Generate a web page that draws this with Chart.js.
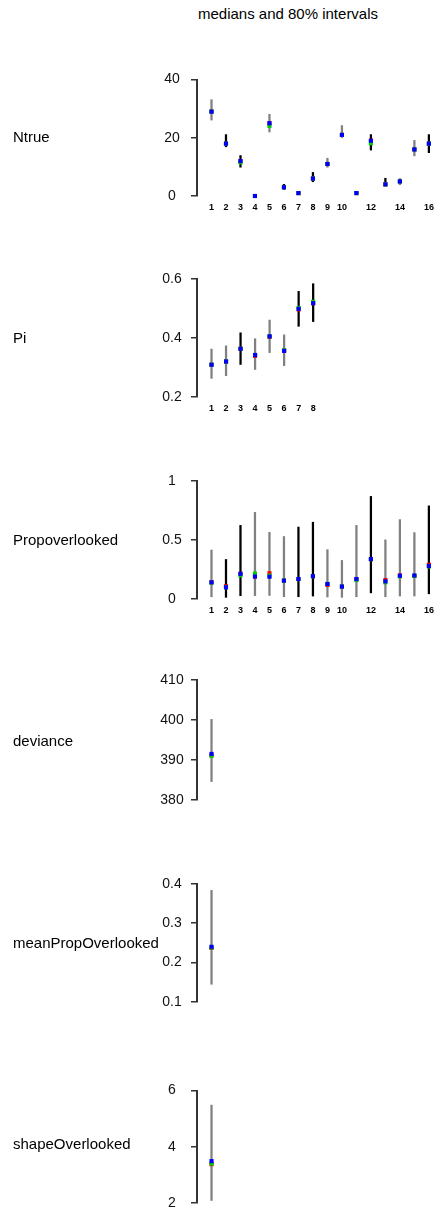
<!DOCTYPE html>
<html>
<head>
<meta charset="utf-8">
<script src="https://cdn.jsdelivr.net/npm/chart.js@4.4.1/dist/chart.umd.min.js"></script>
<style>
body{margin:0;background:#fff;width:440px;height:1211px;position:relative;overflow:hidden;font-family:"Liberation Sans",Arial,sans-serif;}
.panel{position:absolute;left:0;width:440px;height:161px;}
.lbl{position:absolute;left:13px;font-size:15px;color:#000;transform:translateY(-50%);white-space:nowrap;}
#title{position:absolute;top:5px;left:288px;transform:translateX(-50%);font-size:15px;white-space:nowrap;}
</style>
</head>
<body>
<div id="title">medians and 80% intervals</div>
<script>
// ==========================
// DATA (chain medians + 80% intervals)
// ==========================
const ntrueRed   = [29,18,12,0,25,3,1,6,11,21,1,19,4,5,16,18];
const ntrueGreen = [29,18,11.6,0,24.1,3,1,6,11,21,1,18.1,4,5,16,18];
const ntrueBlue  = [29,18,12,0,25,3,1,6,11,21,1,19,4,5,16,18];
const ntrueLow   = [26.1,16.9,9.9,0,22.0,2.3,1,4.9,9.9,20.1,1,15.8,3.5,3.9,13.8,14.9];
const ntrueHigh  = [33.1,21.1,13.9,0,28.1,4.0,1,8.1,13.0,24.2,1,21.1,6.1,6.0,19.1,21.1];
const ntrueXTicks = [1,2,3,4,5,6,7,8,9,10,12,14,16];
const ntrueYTicks = [0,20,40];

const piRed   = [0.309,0.320,0.363,0.339,0.403,0.356,0.496,0.517];
const piGreen = [0.309,0.320,0.363,0.342,0.405,0.358,0.501,0.522];
const piBlue  = [0.309,0.320,0.363,0.342,0.405,0.356,0.498,0.517];
const piLow   = [0.263,0.272,0.310,0.293,0.350,0.306,0.439,0.455];
const piHigh  = [0.362,0.373,0.417,0.397,0.460,0.410,0.557,0.583];
const piXTicks = [1,2,3,4,5,6,7,8];
const piYTicks = [0.2,0.4,0.6];

const propRed   = [0.141,0.108,0.213,0.190,0.218,0.155,0.169,0.193,0.119,0.105,0.169,0.337,0.160,0.200,0.195,0.290];
const propGreen = [0.138,0.099,0.200,0.215,0.198,0.155,0.169,0.193,0.127,0.105,0.160,0.337,0.141,0.192,0.195,0.275];
const propBlue  = [0.141,0.099,0.213,0.190,0.188,0.155,0.169,0.193,0.127,0.105,0.169,0.337,0.149,0.196,0.199,0.279];
const propLow   = [0.019,0.014,0.028,0.028,0.030,0.019,0.019,0.025,0.017,0.014,0.019,0.052,0.019,0.025,0.025,0.044];
const propHigh  = [0.414,0.334,0.622,0.732,0.564,0.528,0.608,0.649,0.417,0.326,0.622,0.867,0.500,0.671,0.561,0.787];
const propXTicks = [1,2,3,4,5,6,7,8,9,10,12,14,16];
const propYTicks = [0,0.5,1];

const devRed = [391.2], devGreen = [391.0], devBlue = [391.5];
const devLow = [384.6], devHigh = [400.1];
const devYTicks = [380,390,400,410];

const meanRed = [0.237], meanGreen = [0.238], meanBlue = [0.240];
const meanLow = [0.145], meanHigh = [0.383];
const meanYTicks = [0.1,0.2,0.3,0.4];

const shapeRed = [3.38], shapeGreen = [3.40], shapeBlue = [3.49];
const shapeLow = [2.09], shapeHigh = [5.48];
const shapeYTicks = [2,4,6];

// ==========================
// STYLE (which interval lines look dark)
// ==========================
const ntrueDark = [0,1,1,1,0,1,1,1,0,0,1,1,1,0,0,1];
const piDark    = [0,0,1,0,0,0,1,1];
const propDark  = [0,1,1,0,0,0,1,1,0,0,0,1,0,0,0,1];

const panels = [
  {name:"Ntrue", top:75, red:ntrueRed, green:ntrueGreen, blue:ntrueBlue, low:ntrueLow, high:ntrueHigh, xt:ntrueXTicks, yt:ntrueYTicks, dark:ntrueDark},
  {name:"Pi", top:276, red:piRed, green:piGreen, blue:piBlue, low:piLow, high:piHigh, xt:piXTicks, yt:piYTicks, dark:piDark},
  {name:"Propoverlooked", top:478, red:propRed, green:propGreen, blue:propBlue, low:propLow, high:propHigh, xt:propXTicks, yt:propYTicks, dark:propDark},
  {name:"deviance", top:679, red:devRed, green:devGreen, blue:devBlue, low:devLow, high:devHigh, xt:[], yt:devYTicks, dark:[0]},
  {name:"meanPropOverlooked", top:881, red:meanRed, green:meanGreen, blue:meanBlue, low:meanLow, high:meanHigh, xt:[], yt:meanYTicks, dark:[0]},
  {name:"shapeOverlooked", top:1082, red:shapeRed, green:shapeGreen, blue:shapeBlue, low:shapeLow, high:shapeHigh, xt:[], yt:shapeYTicks, dark:[0]}
];

const AREA_H = 121, PAD_TOP = 15, AXIS_X = 197, LABEL_CX = 172, TICK_LEN = 6;
const CANVAS_W = 440, CANVAS_H = 161;
const tickFont = '14px "Liberation Sans", Arial, sans-serif';

// measure widest tick label so labels end up centred like R's
const mctx = document.createElement("canvas").getContext("2d");
mctx.font = tickFont;
function widest(vals){
  return Math.max(...vals.map(v => mctx.measureText(String(v)).width));
}

function pts(arr){ return arr.map((v,i)=>({x:i+1, y:v})); }

panels.forEach(p=>{
  const div = document.createElement("div");
  div.className = "panel";
  div.style.top = (p.top - PAD_TOP) + "px";
  const cv = document.createElement("canvas");
  cv.width = CANVAS_W;
  cv.height = CANVAS_H;
  cv.style.width = CANVAS_W + "px";
  cv.style.height = CANVAS_H + "px";
  div.appendChild(cv);
  document.body.appendChild(div);

  const lbl = document.createElement("div");
  lbl.className = "lbl";
  lbl.textContent = p.name;
  lbl.style.top = (p.top + AREA_H/2) + "px";
  document.body.appendChild(lbl);

  const pad = (AXIS_X - LABEL_CX) - TICK_LEN - widest(p.yt)/2;
  const dot = {type:"scatter", showLine:false, pointStyle:"rect", pointRadius:2.9, pointBorderWidth:0, clip:false};

  new Chart(cv, {
    type:"bar",
    data:{
      datasets:[
        Object.assign({}, dot, {data:pts(p.blue), backgroundColor:"#0000ff"}),
        Object.assign({}, dot, {data:pts(p.green), backgroundColor:"#00cc00"}),
        Object.assign({}, dot, {data:pts(p.red), backgroundColor:"#ff0000"}),
        {
          type:"bar",
          data:p.low.map((l,i)=>({x:i+1, y:[l, p.high[i]]})),
          backgroundColor:p.dark.map(d=> d ? "#000000" : "#808080"),
          barThickness:1.6,
          borderWidth:0,
          grouped:false,
          clip:false
        }
      ]
    },
    options:{
      responsive:false,
      animation:false,
      devicePixelRatio:1,
      layout:{padding:{top:PAD_TOP, left:150, right:0, bottom:0}},
      plugins:{legend:{display:false}, tooltip:{enabled:false}, title:{display:false}},
      scales:{
        x:{
          type:"linear", min:0, max:16.46, offset:false,
          grid:{display:false, drawTicks:false},
          border:{display:false},
          ticks:{display:p.xt.length>0, autoSkip:false, maxRotation:0, padding:6,
                 color:"#000", font:{family:"Liberation Sans", size:9, weight:"bold"}},
          afterBuildTicks:s=>{ s.ticks = p.xt.map(v=>({value:v})); },
          afterFit:s=>{ s.height = 25; }
        },
        y:{
          type:"linear", min:p.yt[0], max:p.yt[p.yt.length-1],
          grid:{display:true, drawOnChartArea:false, drawTicks:true, tickLength:TICK_LEN, color:"#333", lineWidth:1.5},
          border:{display:true, color:"#333", width:2},
          ticks:{crossAlign:"center", padding:pad, color:"#111",
                 font:{family:"Liberation Sans", size:14},
                 callback:v=>String(v)},
          afterBuildTicks:s=>{ s.ticks = p.yt.map(v=>({value:v})); },
          afterFit:s=>{ s.width = AXIS_X - 150; }
        }
      }
    }
  });
});
</script>
</body>
</html>
